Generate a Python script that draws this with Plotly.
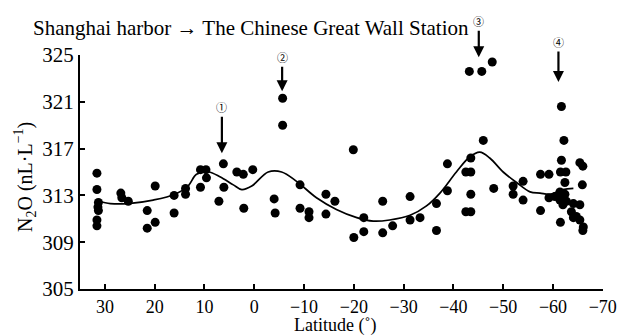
import plotly.graph_objects as go

# Scatter observations (latitude in degrees, N2O in nL/L)
obs_lat = [31.6, 31.6, 31.3, 31.4, 31.3, 31.6, 31.6, 26.8, 26.6, 25.3, 21.5, 21.5, 19.9, 19.9,
           16.1, 16.1, 13.8, 13.8, 10.8, 9.7, 10.8, 9.6, 6.2, 6.1, 7.1, 3.5, 2.2, 0.3, 2.1,
           -5.7, -5.7, -4.0, -4.2, -9.2, -9.2, -11.0, -11.0, -14.4, -16.2, -14.4, -19.9, -20.0,
           -22.0, -22.0, -25.8, -25.8, -27.8, -31.3, -31.3, -33.3, -36.6, -36.6, -38.8, -38.8,
           -42.5, -43.5, -43.5, -43.5, -42.5, -43.5, -43.2, -45.7, -47.8, -46.0, -48.1, -52.0,
           -52.0, -54.0, -54.0, -57.5, -59.2, -57.5, -59.2, -61.7, -62.2, -61.7, -61.5, -62.6,
           -62.4, -61.5, -65.4, -66.0, -65.9, -60.4, -61.4, -62.4, -61.4, -62.7, -62.0, -64.1,
           -65.4, -63.7, -64.7, -65.4, -66.1, -66.0, -64.1]
obs_n2o = [314.9, 313.5, 312.4, 312.0, 311.7, 310.9, 310.4, 313.2, 312.8, 312.5, 311.7, 310.2, 313.8, 310.7,
           313.0, 311.5, 313.6, 313.1, 315.2, 315.2, 313.7, 314.5, 315.7, 313.7, 312.5, 315.0, 314.8, 315.2, 311.9,
           321.3, 319.0, 312.7, 311.5, 313.9, 311.9, 311.6, 311.1, 313.1, 312.5, 311.4, 316.9, 309.4,
           311.1, 309.9, 312.5, 309.8, 310.4, 312.9, 310.9, 311.1, 312.3, 310.0, 315.7, 313.4,
           315.0, 315.0, 316.2, 313.1, 311.6, 311.6, 323.6, 323.6, 324.4, 317.7, 313.6, 313.8,
           313.1, 314.2, 312.6, 314.8, 314.8, 311.7, 312.8, 320.6, 317.7, 316.0, 315.0, 315.0,
           314.1, 310.7, 315.8, 315.5, 313.9, 312.9, 313.3, 313.1, 312.6, 312.5, 312.2, 312.3,
           312.2, 311.6, 311.2, 310.9, 310.3, 310.0, 311.1]

# Smoothed trend line
fit_lat = [31.3, 28.9, 25.3, 20.3, 15.9, 13.3, 11.6, 9.2, 6.9, 4.2, 2.5, 0.5, -2.8, -5.5, -8.5,
           -12.5, -16.5, -20.6, -23.9, -27.2, -31.3, -34.6, -37.3, -40.6, -43.3, -45.3, -47.3,
           -50.0, -52.7, -55.4, -57.4, -59.4, -62.0, -64.1]
fit_n2o = [312.5, 312.3, 312.3, 312.6, 313.1, 313.8, 314.8, 315.0, 314.6, 313.9, 313.5, 313.8, 315.0, 315.0, 314.2,
           312.8, 311.8, 311.1, 310.8, 310.9, 311.3, 312.1, 313.2, 315.0, 316.3, 316.7, 316.2,
           315.0, 314.1, 313.3, 313.2, 313.1, 313.5, 313.6]

x_ticks = [30, 20, 10, 0, -10, -20, -30, -40, -50, -60, -70]
y_ticks = [305, 309, 313, 317, 321, 325]

marks = ["①", "②", "③", "④"]
mark_lat = [6.5, -5.6, -45.1, -61.1]
mark_n2o = [316.6, 321.9, 324.8, 322.7]
mark_len = [-46, -34, -36, -40]

SERIF = "Liberation Serif, Times New Roman, serif"

fig = go.Figure()
fig.add_trace(go.Scatter(x=fit_lat, y=fit_n2o, mode="lines",
                         line=dict(color="black", width=1.7, shape="spline", smoothing=1.0),
                         showlegend=False, hoverinfo="skip"))
fig.add_trace(go.Scatter(x=obs_lat, y=obs_n2o, mode="markers",
                         marker=dict(color="black", size=9), showlegend=False))

for t, la, v, L in zip(marks, mark_lat, mark_n2o, mark_len):
    fig.add_annotation(x=la, y=v, xref="x", yref="y", text=t, showarrow=True,
                       ax=0, ay=L, arrowhead=2, arrowsize=1, arrowwidth=2.2,
                       arrowcolor="black", standoff=0, startstandoff=0,
                       font=dict(family="Noto Sans CJK SC", size=11, color="black"))

fig.add_annotation(x=-0.094, y=1.115, xref="paper", yref="paper", xanchor="left", yanchor="middle",
                   text="Shanghai harbor → The Chinese Great Wall Station", showarrow=False,
                   font=dict(family=SERIF, size=21, color="black"))
fig.add_annotation(x=0.488, y=-0.158, xref="paper", yref="paper", xanchor="center", yanchor="middle",
                   text="Latitude (˚)", showarrow=False,
                   font=dict(family=SERIF, size=18, color="black"))
fig.add_annotation(x=-0.105, y=0.479, xref="paper", yref="paper", xanchor="center", yanchor="middle",
                   text="N<sub>2</sub>O (nL·L<sup>−1</sup>)", textangle=-90, showarrow=False,
                   font=dict(family=SERIF, size=20, color="black"))

fig.update_xaxes(range=[35, -70.05], tickvals=x_ticks, ticks="inside", ticklen=5, tickwidth=1.5,
                 tickcolor="black", showline=True, linecolor="black", linewidth=2,
                 showgrid=False, zeroline=False, ticklabeloverflow="allow", automargin=False,
                 tickfont=dict(family=SERIF, size=18, color="black"))
fig.update_yaxes(range=[305, 325], tickvals=y_ticks, ticks="inside", ticklen=5, tickwidth=1.5,
                 tickcolor="black", showline=True, linecolor="black", linewidth=2,
                 showgrid=False, zeroline=False, automargin=False,
                 tickfont=dict(family=SERIF, size=21, color="black"))

fig.update_layout(width=617, height=336, margin=dict(l=80, r=14, t=55, b=47),
                  plot_bgcolor="white", paper_bgcolor="white")

fig.write_html("out.html", config={"displayModeBar": False},
               post_script="document.body.style.margin='0';document.body.style.overflow='hidden';")
